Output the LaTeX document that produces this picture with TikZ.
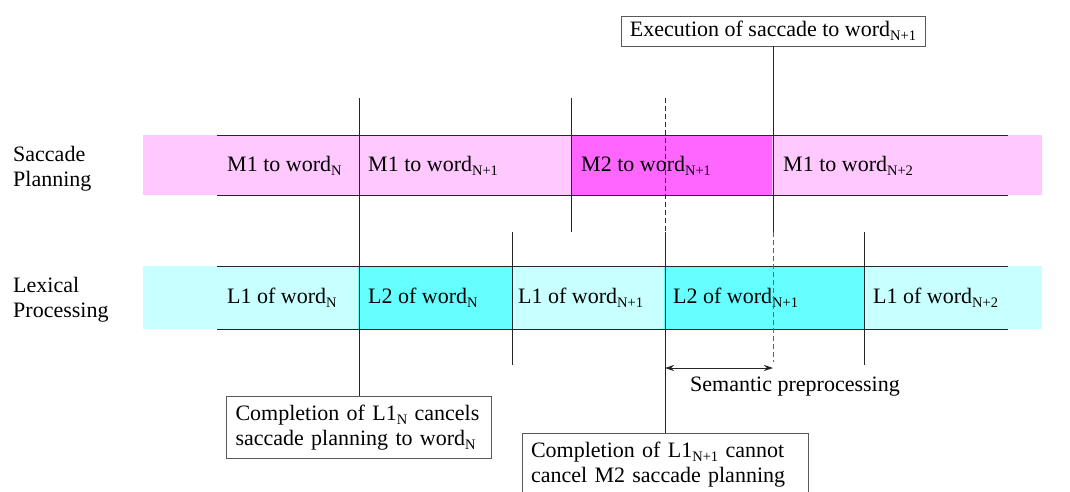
\documentclass[tikz,border=0pt]{standalone}
\usepackage{fontspec}
\setmainfont{Liberation Serif}
\usetikzlibrary{arrows.meta}
\definecolor{sacclight}{HTML}{FFC8FF}
\definecolor{saccdark}{HTML}{FF66FF}
\definecolor{lexlight}{HTML}{C8FFFF}
\definecolor{lexdark}{HTML}{66FFFF}
\newcommand\idx[1]{\raisebox{-0.4ex}{\fontsize{14.5}{14.5}\selectfont #1}}

\begin{document}
\begin{tikzpicture}[x=1pt,y=-1pt,font=\fontsize{22}{25}\selectfont,
    cell/.style={anchor=west,inner sep=0pt},
    note/.style={draw=black!65,fill=white,align=left,inner xsep=9pt,inner ysep=8.5pt},
    tick/.style={draw=black!85,line width=0.8pt},
    dashtick/.style={tick,dash pattern=on 5pt off 3pt}]
    \useasboundingbox (0,0) rectangle (1070,492);
    % bands
    \fill[sacclight] (143,135) rectangle (1042,195);
    \fill[saccdark] (571,135) rectangle (772,195);
    \fill[lexlight] (143,266) rectangle (1042,329);
    \fill[lexdark] (358,266) rectangle (512,329);
    \fill[lexdark] (664,266) rectangle (864,329);
    \draw[tick] (217,135) -- (1008,135) (217,195) -- (1008,195);
    \draw[tick] (217,266) -- (1008,266) (217,329) -- (1008,329);
    % row names
    \node[cell,align=left] (sacc) at (13,169) {Saccade\\Planning};
    \node[cell,align=left] (lex) at (13,300) {Lexical\\Processing};
    % saccade cells
    \node[cell] (m1n) at (227,166) {M1 to word\idx{N}};
    \node[cell] (m1n1) at (368,166) {M1 to word\idx{N+1}};
    \node[cell] (m2n1) at (581,166) {M2 to word\idx{N+1}};
    \node[cell] (m1n2) at (783,166) {M1 to word\idx{N+2}};
    % lexical cells
    \node[cell] (l1n) at (227,298) {L1 of word\idx{N}};
    \node[cell] (l2n) at (368,298) {L2 of word\idx{N}};
    \node[cell] (l1n1) at (518,298) {L1 of word\idx{N+1}};
    \node[cell] (l2n1) at (673,298) {L2 of word\idx{N+1}};
    \node[cell] (l1n2) at (873,298) {L1 of word\idx{N+2}};
    % notes
    \node[note,inner ysep=5pt] (exec) at (773,31) {Execution of saccade to word\idx{N+1}};
    \node[note,anchor=north,text width=247pt] (cancel) at (359,396)
      {Completion of L1\idx{N} cancels\\saccade planning to word\idx{N}};
    \node[note,anchor=north,text width=268pt] (nocancel) at (665,433)
      {Completion of L1\idx{N+1} cannot\\cancel M2 saccade planning};
    % line ends
    \coordinate (c1) at (cancel.north |- 0,98);
    \coordinate (m2a) at (571,98);
    \coordinate (m2b) at (571,232);
    \coordinate (l1a) at (512,232);
    \coordinate (l1b) at (512,365);
    \coordinate (l2a) at (864,232);
    \coordinate (l2b) at (864,365);
    \coordinate (nc1) at (nocancel.north |- 0,98);
    \coordinate (nc2) at (nocancel.north |- 0,232);
    \coordinate (ex1) at (exec.south |- 0,232);
    \coordinate (ex2) at (exec.south |- 0,362);
    \coordinate (sp0) at (nocancel.north |- 0,368);
    \coordinate (sp1) at (exec.south |- 0,368);
    % dividers
    \draw[tick] (c1) -- (cancel.north);
    \draw[tick] (m2a) -- (m2b);
    \draw[tick] (l1a) -- (l1b);
    \draw[tick] (l2a) -- (l2b);
    \draw[dashtick] (nc1) -- (nc2);
    \draw[tick] (nc2) -- (nocancel.north);
    \draw[tick] (exec.south) -- (ex1);
    \draw[dashtick,draw=black!60] (ex1) -- (ex2);
    % semantic preprocessing
    \draw[tick,{Stealth[length=9pt,width=6pt]}-{Stealth[length=9pt,width=6pt]}] (sp0) -- (sp1);
    \node (sem) at (795,387) {Semantic preprocessing};
\end{tikzpicture}
\end{document}
